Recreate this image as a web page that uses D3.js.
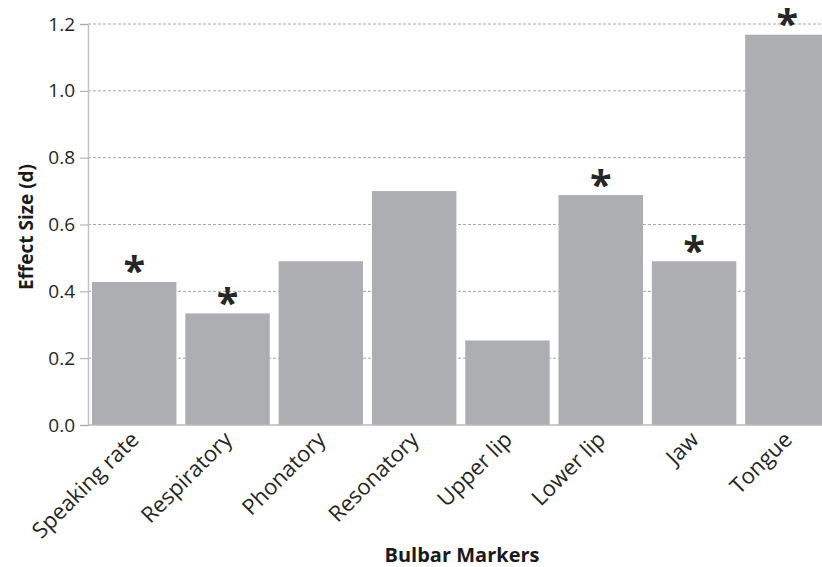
<!DOCTYPE html>
<html>
<head>
<meta charset="utf-8">
<script src="https://cdn.jsdelivr.net/npm/d3@7"></script>
<style>
  body { margin: 0; background: #fff; }
  svg { display: block; }
  text { font-family: "Open Sans", Lato, sans-serif; }
</style>
</head>
<body>
<svg id="chart" width="822" height="567"></svg>
<script>
const categories = ["Speaking rate", "Respiratory", "Phonatory", "Resonatory", "Upper lip", "Lower lip", "Jaw", "Tongue"];
const effectSizes = [0.428, 0.334, 0.49, 0.70, 0.253, 0.688, 0.49, 1.168];
const significant = [true, true, false, false, false, true, true, true];
const yTicks = [0.0, 0.2, 0.4, 0.6, 0.8, 1.0, 1.2];

const svg = d3.select("#chart");

const x = d3.scaleBand()
  .domain(categories)
  .range([87.6, 834])
  .paddingInner(0.095)
  .paddingOuter(0.047);

const y = d3.scaleLinear()
  .domain([0, 1.2])
  .range([425, 24]);

// gridlines
svg.append("g")
  .selectAll("line")
  .data(yTicks.filter(d => d > 0))
  .join("line")
  .attr("x1", 88).attr("x2", 822)
  .attr("y1", d => y(d)).attr("y2", d => y(d))
  .attr("stroke", "#a8a8a8")
  .attr("stroke-width", 1)
  .attr("stroke-dasharray", "3,2");

// bars
svg.append("g")
  .selectAll("rect")
  .data(categories)
  .join("rect")
  .attr("x", d => x(d))
  .attr("width", x.bandwidth())
  .attr("y", (d, i) => y(effectSizes[i]))
  .attr("height", (d, i) => y(0) - y(effectSizes[i]))
  .attr("fill", "#adaeb2");

// y axis
const yAxis = d3.axisLeft(y)
  .tickValues(yTicks)
  .tickFormat(d3.format(".1f"))
  .tickSize(8)
  .tickPadding(5);
const yg = svg.append("g").attr("transform", "translate(88,0)").call(yAxis);
yg.select(".domain").attr("stroke", "#c2c2c6").attr("stroke-width", 1.5);
yg.selectAll(".tick line").attr("stroke", "#a8a8a8");
yg.selectAll(".tick text")
  .attr("fill", "#262626")
  .style("font-size", "19px")
  .style("font-family", "'Open Sans', Lato, sans-serif");

// baseline
svg.append("line")
  .attr("x1", 88).attr("x2", 822)
  .attr("y1", y(0)).attr("y2", y(0))
  .attr("stroke", "#b8b8bc")
  .attr("stroke-width", 1.5);

// x tick labels
svg.append("g")
  .selectAll("text")
  .data(categories)
  .join("text")
  .attr("transform", d => `translate(${x(d) + x.bandwidth() / 2 + 6},${y(0) + 16}) rotate(-45)`)
  .attr("text-anchor", "end")
  .attr("fill", "#262626")
  .style("font-size", "22px")
  .text(d => d);

// significance asterisks: size the glyph ink to ~19px and leave a ~8px gap above the bar
const ctx = document.createElement("canvas").getContext("2d");
ctx.font = "bold 100px 'Open Sans'";
const m = ctx.measureText("*");
const inkH = m.actualBoundingBoxAscent + m.actualBoundingBoxDescent; // per 100px
const astSize = inkH > 0 ? 100 * 19 / inkH : 50;
const inkBottom = (inkH > 0 ? -m.actualBoundingBoxDescent : 42) * astSize / 100; // ink bottom above baseline
svg.append("g")
  .selectAll("text")
  .data(categories.filter((d, i) => significant[i]))
  .join("text")
  .attr("x", d => x(d) + x.bandwidth() / 2)
  .attr("y", d => y(effectSizes[categories.indexOf(d)]) - 8 + inkBottom)
  .attr("text-anchor", "middle")
  .attr("fill", "#262626")
  .style("font-size", astSize + "px")
  .style("font-weight", "bold")
  .text("*");

// axis titles
svg.append("text")
  .attr("transform", "translate(33,227) rotate(-90)")
  .attr("text-anchor", "middle")
  .attr("fill", "#1a1a1a")
  .style("font-size", "19px")
  .style("font-weight", "bold")
  .text("Effect Size (d)");

svg.append("text")
  .attr("x", 462)
  .attr("y", 562)
  .attr("text-anchor", "middle")
  .attr("fill", "#1a1a1a")
  .style("font-size", "20px")
  .style("font-weight", "bold")
  .text("Bulbar Markers");
</script>
</body>
</html>
